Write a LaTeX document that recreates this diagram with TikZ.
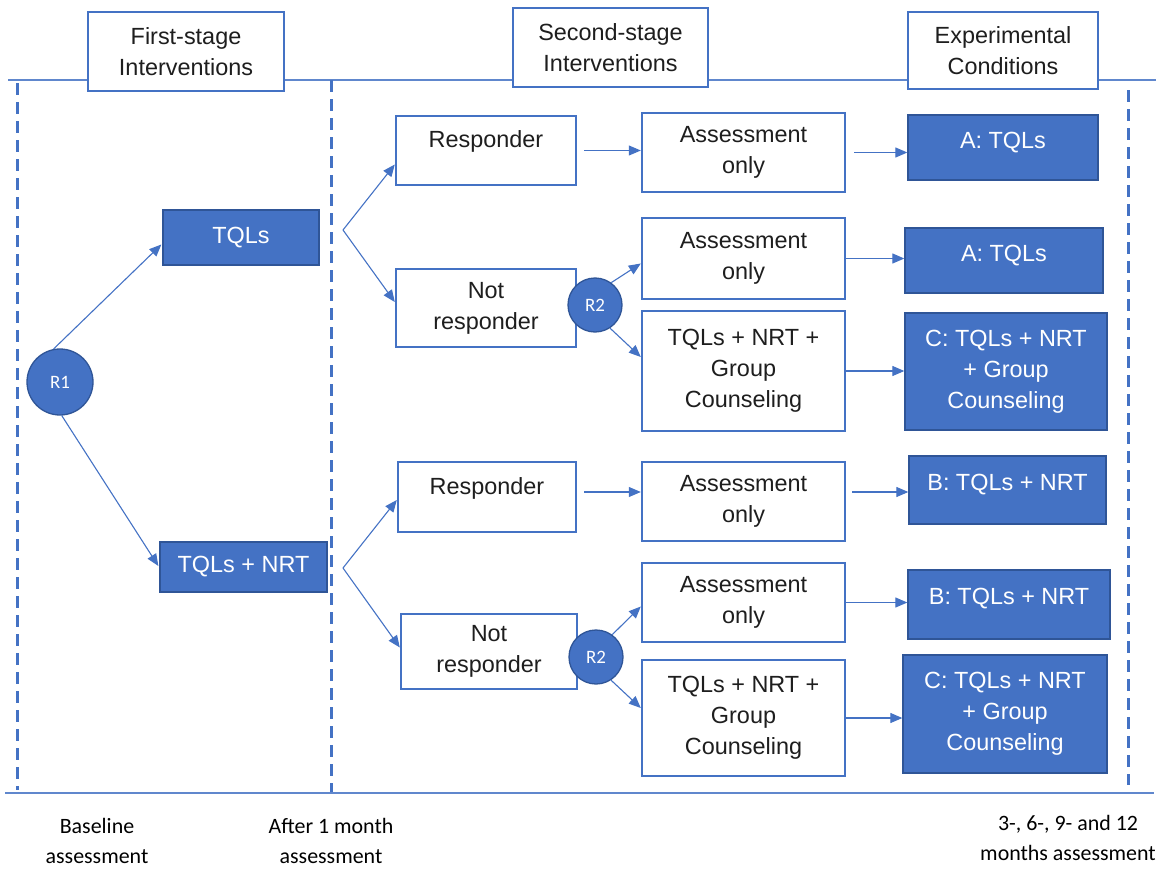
\documentclass[tikz,border=0pt]{standalone}
\usepackage{fontspec}
\setmainfont{Liberation Sans}
\newfontfamily\notefont{Carlito}
\usetikzlibrary{arrows.meta,calc}
\definecolor{ofblue}{HTML}{4472C4}
\definecolor{ofdark}{HTML}{2F5597}
\definecolor{inktext}{HTML}{1E1E1E}

\begin{document}
\begin{tikzpicture}[x=1bp,y=-1bp,
  every node/.style={font=\fontsize{23.5}{31}\selectfont, text=inktext, align=center, inner sep=0pt},
  hbox/.style={draw=ofblue, line width=2.4bp, fill=white},
  wbox/.style={draw=ofblue, line width=2.4bp, fill=white},
  fbox/.style={draw=ofdark, line width=1.3bp, fill=ofblue, text=white},
  rnd/.style={circle, draw=ofdark, line width=1.3bp, fill=ofblue, text=white, font=\notefont\fontsize{19}{22}\selectfont},
  conn/.style={draw=ofblue, line width=1.1bp},
  arr/.style={conn, -{Triangle[length=12bp,width=10bp]}},
  guide/.style={draw=ofblue, line width=3bp, dash pattern=on 12bp off 7bp},
  rule/.style={draw=ofblue!85, line width=1.5bp},
  note/.style={font=\notefont\fontsize{22}{30}\selectfont, text=black}
]
\useasboundingbox (0,0) rectangle (1156,869);

% timeline rules and stage separators
\draw[rule] (8,80) -- (1156,80);
\draw[rule] (5,793) -- (1154,793);
\draw[guide] (17,83) -- (17,790);
\draw[guide] (331,80) -- (331,792);
\draw[guide] (1128,90) -- (1128,785);

% column headers
\node[hbox, minimum width=196bp, minimum height=79bp] (h1) at (186,51.5) {First-stage\\Interventions};
\node[hbox, minimum width=195bp, minimum height=79bp] (h2) at (610.5,47.5) {Second-stage\\Interventions};
\node[hbox, minimum width=190bp, minimum height=77bp] (h3) at (1003,50.5) {Experimental\\Conditions};

% first randomisation
\node[rnd, minimum size=66bp] (r1) at (60,382) {R1};
\node[fbox, minimum width=156bp, minimum height=55bp] (tql) at (241,237.5) {TQLs};
\node[fbox, minimum width=167bp, minimum height=50bp] (tqlnrt) at (243.5,567) {TQLs + NRT};

% upper branch
\node[wbox, minimum width=180bp, minimum height=69bp, text depth=22bp] (resp1) at (486,150.5) {Responder};
\node[wbox, minimum width=180bp, minimum height=78bp] (nresp1) at (486,308) {Not\\responder};
\node[rnd, minimum size=54bp] (r2a) at (595,305) {R2};
\node[wbox, minimum width=203bp, minimum height=79bp] (ass1) at (743.5,152.5) {Assessment\\only};
\node[wbox, minimum width=203bp, minimum height=81bp] (ass2) at (743.5,258.5) {Assessment\\only};
\node[wbox, minimum width=203bp, minimum height=120bp] (tng1) at (743.5,371) {TQLs + NRT +\\Group\\Counseling};
\node[fbox, minimum width=190bp, minimum height=65bp, text depth=14bp] (a1) at (1003,147.5) {A: TQLs};
\node[fbox, minimum width=198bp, minimum height=65bp, text depth=14bp] (a2) at (1004,260.5) {A: TQLs};
\node[fbox, minimum width=202bp, minimum height=117bp] (c1) at (1006,371.5) {C: TQLs + NRT\\+ Group\\Counseling};

% lower branch
\node[wbox, minimum width=178bp, minimum height=70bp, text depth=22bp] (resp2) at (487,497) {Responder};
\node[wbox, minimum width=176bp, minimum height=75bp] (nresp2) at (489,651.5) {Not\\responder};
\node[rnd, minimum size=54bp] (r2b) at (596,657) {R2};
\node[wbox, minimum width=203bp, minimum height=79bp] (ass3) at (743.5,501.5) {Assessment\\only};
\node[wbox, minimum width=203bp, minimum height=79bp] (ass4) at (743.5,602.5) {Assessment\\only};
\node[wbox, minimum width=203bp, minimum height=116bp] (tng2) at (743.5,718) {TQLs + NRT +\\Group\\Counseling};
\node[fbox, minimum width=197bp, minimum height=68bp, text depth=16bp] (b1) at (1007.5,490) {B: TQLs + NRT};
\node[fbox, minimum width=202bp, minimum height=69bp, text depth=16bp] (b2) at (1009,604.5) {B: TQLs + NRT};
\node[fbox, minimum width=204bp, minimum height=118bp] (c2) at (1005,714) {C: TQLs + NRT\\+ Group\\Counseling};

% assessment points
\node[note] (n1) at (97,841) {Baseline\\assessment};
\node[note] (n2) at (331,841) {After 1 month\\assessment};
\node[note] (n3) at (1068,838) {3-, 6-, 9- and 12\\months assessment};

% connectors: first randomisation
\draw[arr] (r1.101) -- ($(tql.west)+(-1,7)$);
\draw[arr] (r1.-87) -- ($(tqlnrt.west)+(-1,-1)$);

% connectors: response forks
\coordinate (fa) at (343,230);
\coordinate (fb) at (343,568);
\draw[arr] (fa) -- ($(resp1.west)+(0,14)$);
\draw[arr] (fa) -- ($(nresp1.west)+(0,-6)$);
\draw[arr] (fb) -- ($(resp2.west)+(0,3)$);
\draw[arr] (fb) -- ($(nresp2.west)+(0,-4)$);

% connectors: second randomisation
\draw[arr] (r2a.54) -- ($(ass2.west)+(0,5)$);
\draw[arr] (r2a.-57) -- ($(tng1.west)+(0,-14)$);
\draw[arr] (r2b.54) -- ($(ass4.west)+(0,4)$);
\draw[arr] (r2b.-57) -- ($(tng2.west)+(0,-10)$);

% connectors: into assessment and conditions
\draw[arr] ($(resp1.east)+(7,0)$) -- (resp1.east -| ass1.west);
\draw[arr] ($(ass1.east)+(8,0)$) -- (ass1.east -| a1.west);
\draw[arr] (ass2.east) -- (ass2.east -| a2.west);
\draw[arr] (tng1.east) -- (tng1.east -| c1.west);
\draw[arr] ($(resp2.east)+(7,-5)$) -- ($(resp2.east -| ass3.west)+(0,-5)$);
\draw[arr] ($(b1.west -| ass3.east)+(6,2)$) -- ($(b1.west)+(0,2)$);
\draw[arr] (ass4.east) -- (ass4.east -| b2.west);
\draw[arr] (tng2.east) -- (tng2.east -| c2.west);
\end{tikzpicture}
\end{document}
